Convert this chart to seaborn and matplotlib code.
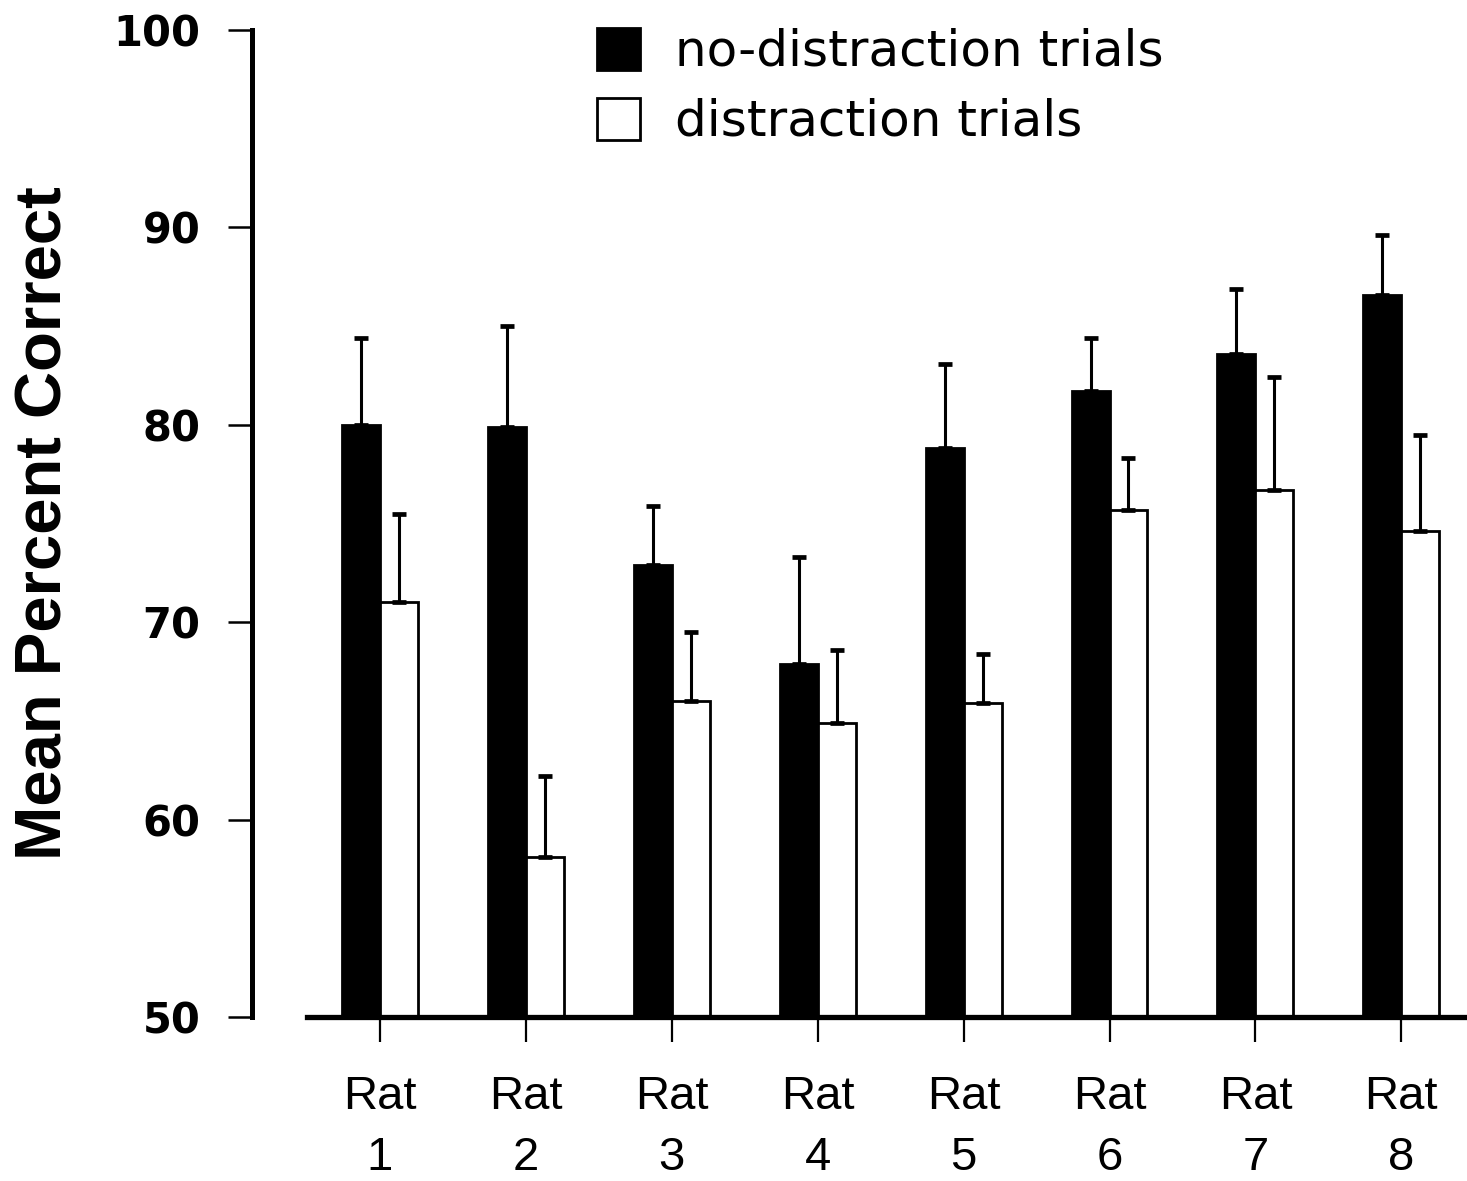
import seaborn as sns
import pandas as pd
import matplotlib.pyplot as plt

# values
rats = ['Rat\n1', 'Rat\n2', 'Rat\n3', 'Rat\n4', 'Rat\n5', 'Rat\n6', 'Rat\n7', 'Rat\n8']
conditions = ['no-distraction trials', 'distraction trials']
no_distraction = [80.0, 79.9, 72.9, 67.9, 78.8, 81.7, 83.6, 86.6]
no_distraction_err = [4.4, 5.1, 3.0, 5.4, 4.3, 2.7, 3.3, 3.0]
distraction = [71.0, 58.1, 66.0, 64.9, 65.9, 75.7, 76.7, 74.6]
distraction_err = [4.5, 4.1, 3.5, 3.7, 2.5, 2.6, 5.7, 4.9]
yticks = [50, 60, 70, 80, 90, 100]


def main():
    df = pd.DataFrame({
        'rat': rats * 2,
        'condition': [conditions[0]] * len(rats) + [conditions[1]] * len(rats),
        'value': no_distraction + distraction,
    })
    errs = [no_distraction_err, distraction_err]
    means = [no_distraction, distraction]

    sns.set_style('white')
    plt.rcParams['text.color'] = 'black'
    plt.rcParams['axes.labelcolor'] = 'black'
    plt.rcParams['xtick.color'] = 'black'
    plt.rcParams['ytick.color'] = 'black'

    fig = plt.figure(figsize=(14.67, 11.81), dpi=100)
    ax = fig.add_axes([307 / 1467, 1 - 1017 / 1181, 1 - 307 / 1467, (1017 - 30) / 1181])

    sns.barplot(data=df, x='rat', y='value', hue='condition', order=rats,
                hue_order=conditions, palette=['black', 'white'],
                edgecolor='black', linewidth=2, width=0.52, errorbar=None,
                saturation=1, ax=ax)

    # upper-only error bars on each bar
    for cont, m, e in zip(ax.containers, means, errs):
        xs = [b.get_x() + b.get_width() / 2 for b in cont]
        ax.errorbar(xs, m, yerr=[[0] * len(e), e], fmt='none', ecolor='black',
                    elinewidth=2.2, capsize=5, capthick=3.4, zorder=5)

    # spines first: set_position resets the ticks
    sns.despine(ax=ax)
    ax.spines['left'].set_position(('outward', 39.6))
    ax.spines['left'].set_linewidth(3.6)
    ax.spines['bottom'].set_linewidth(3.8)
    ax.spines['left'].set_color('black')
    ax.spines['bottom'].set_color('black')

    ax.set_ylim(50, 100)
    ax.set_xlim(-0.5, 7.45)
    ax.set_yticks(yticks)
    ax.set_yticklabels([str(t) for t in yticks], fontfamily='DejaVu Sans',
                       fontweight='bold', fontsize=30, color='black')
    ax.set_xticks(range(len(rats)))
    ax.set_xticklabels(rats, fontfamily='Liberation Sans', fontsize=34,
                       color='black')
    for lbl in ax.get_xticklabels():
        lbl.set_linespacing(1.5)

    ax.tick_params(axis='y', direction='out', length=17, width=1.8, pad=20,
                   left=True)
    ax.tick_params(axis='x', direction='out', length=18, width=1.6, pad=24,
                   bottom=True)

    ax.set_xlabel('')
    ax.set_ylabel('Mean Percent Correct', fontfamily='Liberation Sans',
                  fontweight='bold', fontsize=47, color='black')
    ax.yaxis.set_label_coords(-0.2, 0.5)

    handles, labels = ax.get_legend_handles_labels()
    leg = ax.legend(handles, labels, loc='upper left',
                    bbox_to_anchor=(597 / 1467, 1 - 28 / 1181),
                    bbox_transform=fig.transFigure, frameon=False,
                    borderpad=0, borderaxespad=0, handlelength=0.86,
                    handleheight=0.9, handletextpad=0.7, labelspacing=0.44,
                    prop={'family': 'DejaVu Sans', 'size': 36})
    for h in leg.legend_handles:
        h.set_edgecolor('black')
        h.set_linewidth(2)
    for t in leg.get_texts():
        t.set_color('black')

    fig.savefig('out.png', dpi=100)


main()
